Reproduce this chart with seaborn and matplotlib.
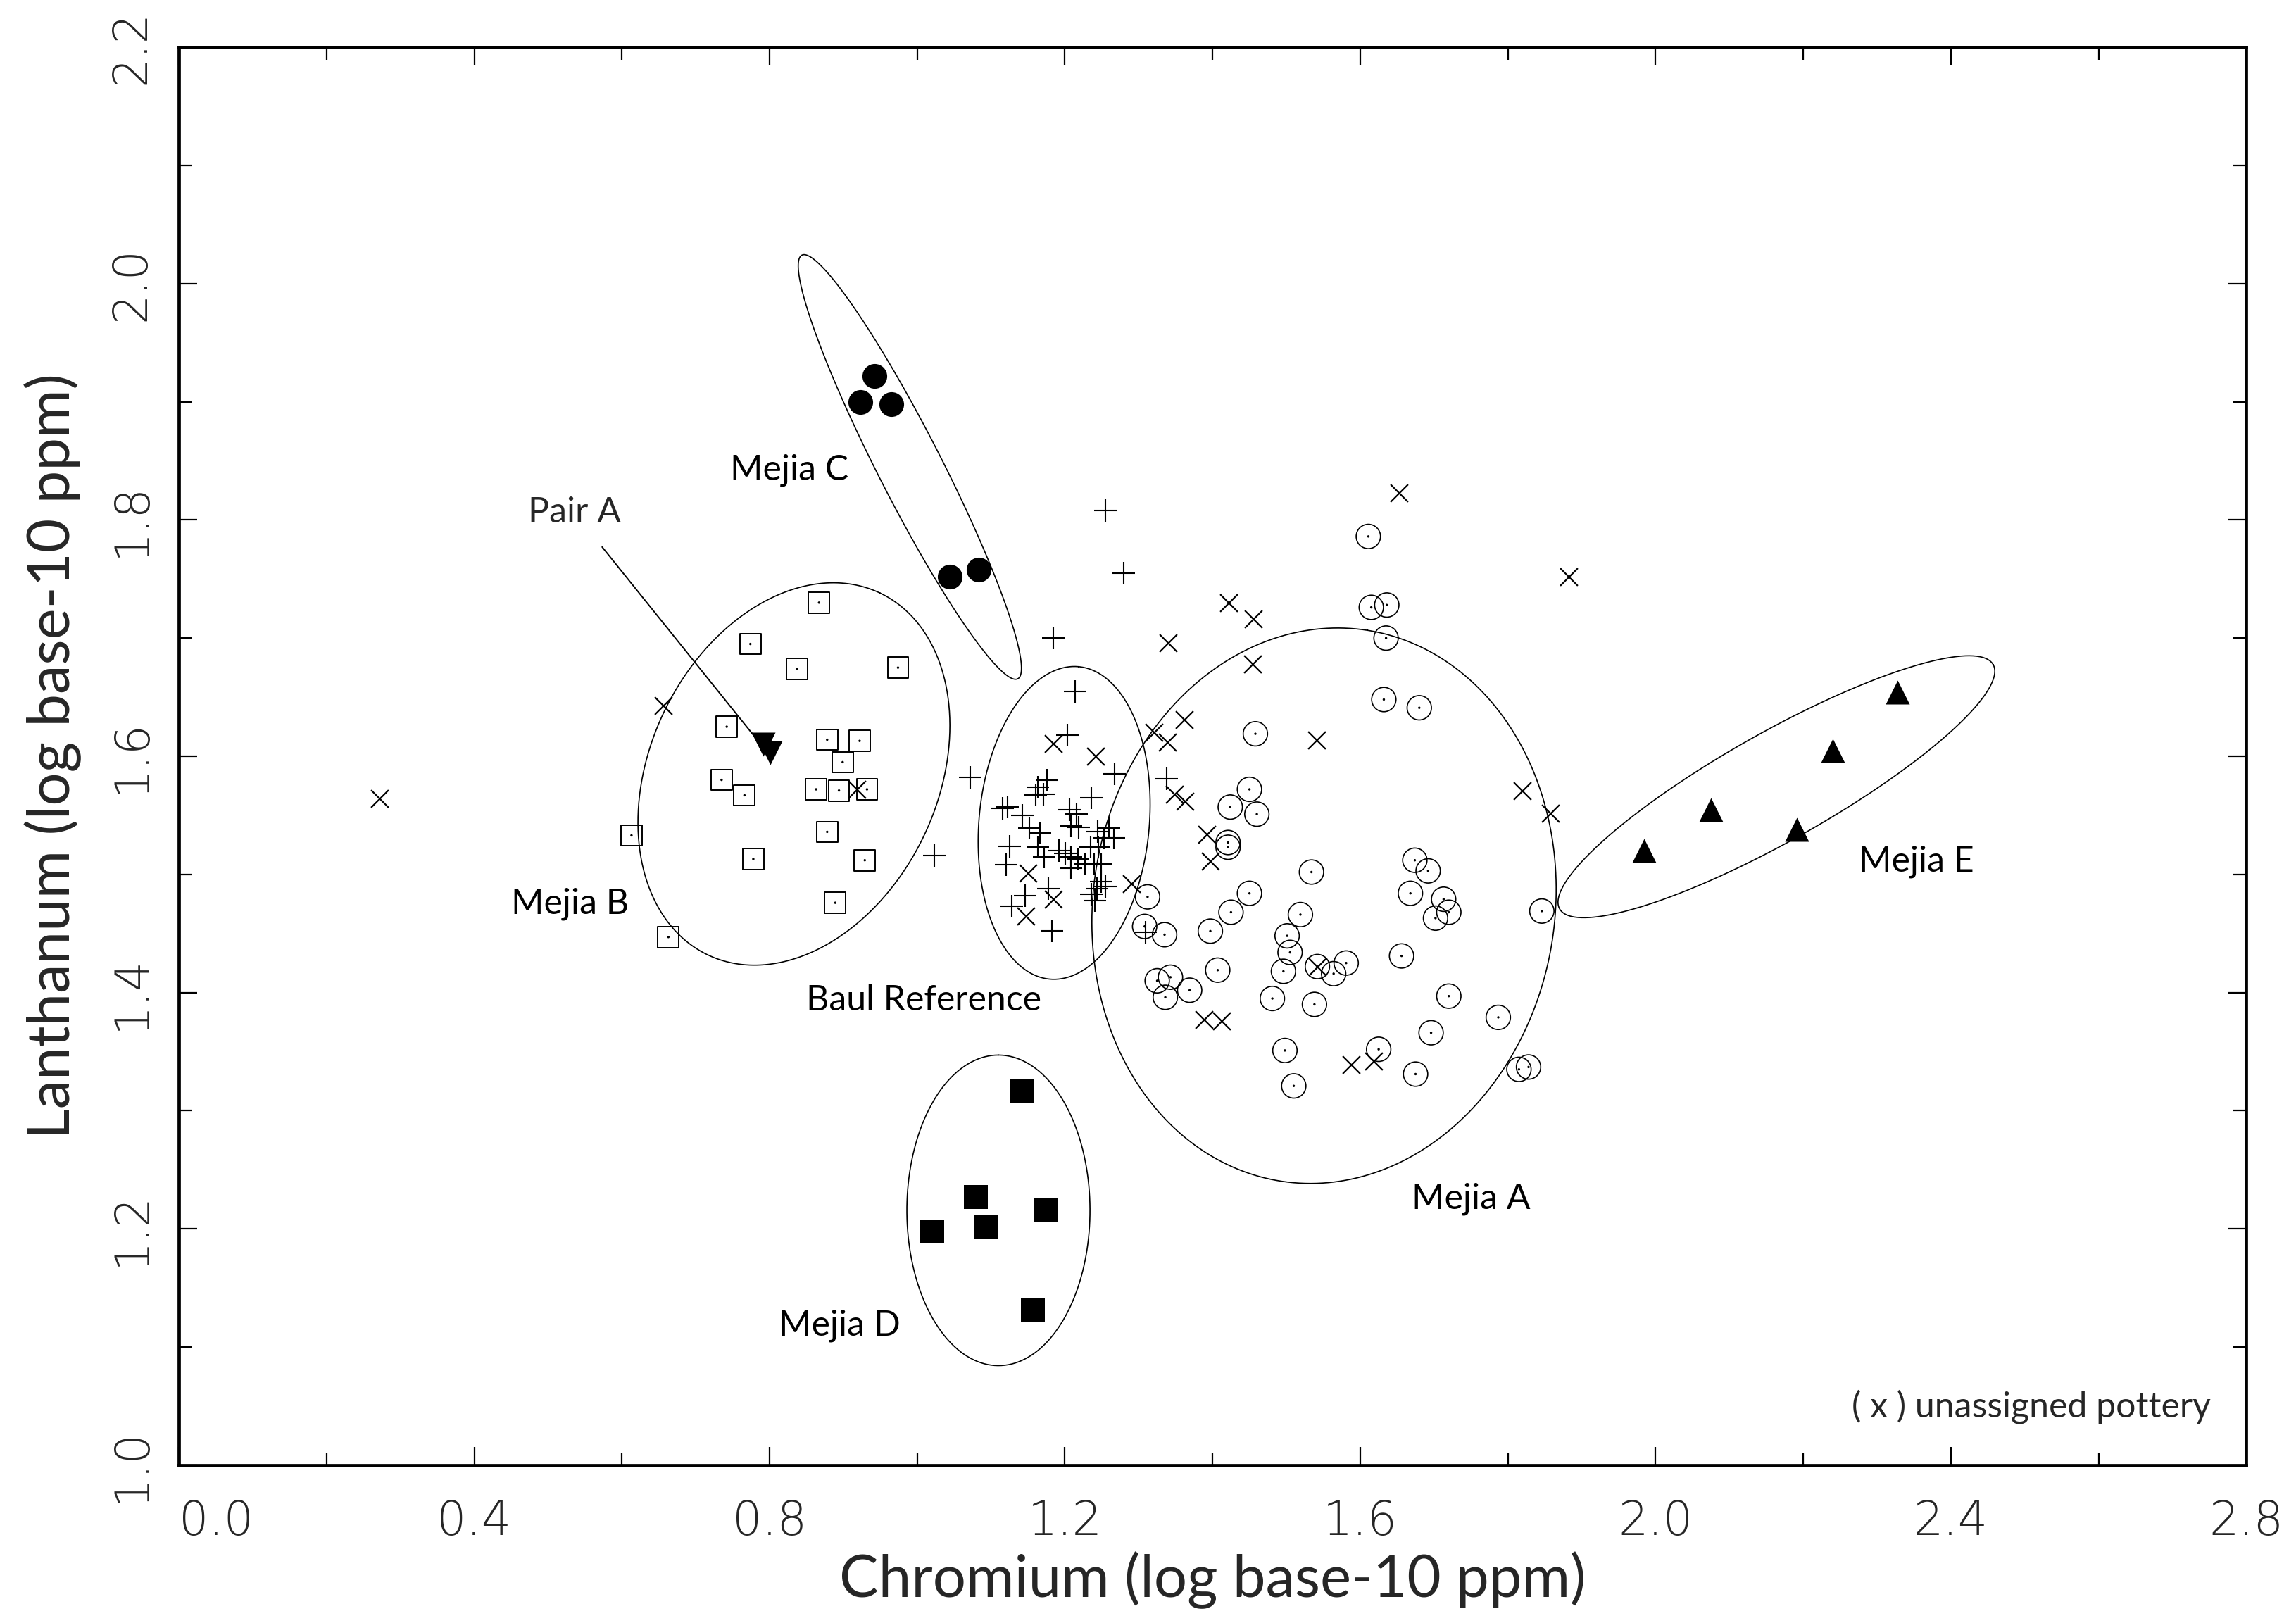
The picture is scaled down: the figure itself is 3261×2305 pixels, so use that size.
import numpy as np
import matplotlib
matplotlib.use("Agg")
import matplotlib.pyplot as plt
import seaborn as sns

# log10 chromium (x) and log10 lanthanum (y)

# Mejia A (open circles)
mejia_a_cr = [1.611, 1.615, 1.636, 1.635, 1.632, 1.680, 1.458, 1.450, 1.424, 1.460,
              1.421, 1.421, 1.534, 1.674, 1.692, 1.312, 1.308, 1.335, 1.397, 1.425,
              1.450, 1.668, 1.702, 1.519, 1.501, 1.505, 1.496, 1.407, 1.325, 1.343,
              1.336, 1.369, 1.481, 1.538, 1.542, 1.564, 1.581, 1.656, 1.696, 1.625,
              1.675, 1.498, 1.510, 1.713, 1.720, 1.846, 1.720, 1.787, 1.815, 1.828]
mejia_a_la = [1.786, 1.726, 1.728, 1.700, 1.648, 1.641, 1.619, 1.572, 1.557, 1.551,
              1.527, 1.523, 1.502, 1.512, 1.503, 1.481, 1.456, 1.449, 1.452, 1.468,
              1.484, 1.484, 1.463, 1.466, 1.448, 1.434, 1.418, 1.419, 1.410, 1.413,
              1.396, 1.402, 1.395, 1.390, 1.422, 1.416, 1.425, 1.431, 1.366, 1.352,
              1.331, 1.351, 1.321, 1.479, 1.468, 1.469, 1.397, 1.379, 1.335, 1.337]

# Mejia B (open squares)
mejia_b_cr = [0.867, 0.774, 0.837, 0.974, 0.742, 0.878, 0.922, 0.899, 0.735, 0.766,
              0.863, 0.894, 0.932, 0.878, 0.613, 0.778, 0.929, 0.889, 0.663]
mejia_b_la = [1.730, 1.695, 1.674, 1.675, 1.625, 1.614, 1.613, 1.595, 1.580, 1.567,
              1.572, 1.571, 1.572, 1.536, 1.533, 1.513, 1.512, 1.476, 1.447]

# Mejia C (filled circles)
mejia_c_cr = [0.942, 0.923, 0.965, 1.044, 1.083]
mejia_c_la = [1.922, 1.900, 1.898, 1.752, 1.758]

# Mejia D (filled squares)
mejia_d_cr = [1.141, 1.079, 1.020, 1.093, 1.175, 1.157]
mejia_d_la = [1.317, 1.227, 1.198, 1.202, 1.216, 1.131]

# Mejia E (filled triangles)
mejia_e_cr = [2.328, 2.240, 2.075, 2.191, 1.984]
mejia_e_la = [1.654, 1.605, 1.555, 1.538, 1.520]

# Pair A (filled down triangles)
pair_a_cr = [0.791, 0.801]
pair_a_la = [1.610, 1.603]

# Baul reference (plus)
baul_cr = [1.255, 1.280, 1.184, 1.214, 1.203, 1.267, 1.072, 1.023, 1.338, 1.309,
           1.182, 1.128, 1.146, 1.178, 1.120, 1.125, 1.116, 1.122, 1.142, 1.152,
           1.166, 1.163, 1.171, 1.176, 1.160, 1.236, 1.206, 1.216, 1.208, 1.219,
           1.244, 1.260, 1.266, 1.253, 1.163, 1.172, 1.192, 1.201, 1.208, 1.218,
           1.227, 1.240, 1.249, 1.235, 1.245, 1.208, 1.249, 1.243, 1.236, 1.241,
           1.255]
baul_la = [1.808, 1.755, 1.700, 1.655, 1.618, 1.585, 1.582, 1.516, 1.581, 1.451,
           1.452, 1.473, 1.482, 1.488, 1.508, 1.524, 1.556, 1.557, 1.550, 1.539,
           1.535, 1.574, 1.568, 1.580, 1.567, 1.565, 1.555, 1.551, 1.541, 1.540,
           1.536, 1.539, 1.531, 1.531, 1.523, 1.515, 1.520, 1.518, 1.515, 1.513,
           1.509, 1.509, 1.509, 1.523, 1.523, 1.505, 1.494, 1.488, 1.483, 1.478,
           1.490]

# unassigned pottery (x)
unassigned_cr = [0.272, 0.656, 0.918, 1.184, 1.242, 1.150, 1.184, 1.147, 1.290, 1.340,
                 1.321, 1.339, 1.362, 1.348, 1.363, 1.392, 1.397, 1.422, 1.455, 1.454,
                 1.541, 1.653, 1.542, 1.388, 1.412, 1.588, 1.618, 1.882, 1.819, 1.858]
unassigned_la = [1.564, 1.643, 1.572, 1.611, 1.600, 1.501, 1.479, 1.465, 1.492, 1.696,
                 1.620, 1.612, 1.631, 1.568, 1.562, 1.534, 1.511, 1.730, 1.716, 1.678,
                 1.614, 1.823, 1.422, 1.377, 1.376, 1.339, 1.342, 1.752, 1.571, 1.552]

# group ellipses: centre, semi-axes (in x units), tilt in degrees on screen
ellipses = {
    "Mejia A": (1.551, 1.4735, 0.3776, 0.3127, 81.0),
    "Mejia B": (0.833, 1.585, 0.2714, 0.1950, 64.5),
    "Baul": (1.199, 1.5436, 0.2125, 0.1153, 84.7),
    "Mejia C": (0.990, 1.8448, 0.322, 0.0432, -63.0),
    "Mejia D": (1.110, 1.2157, 0.2103, 0.124, 90.0),
    "Mejia E": (2.1637, 1.5742, 0.337, 0.0734, 29.4),
}

sns.set_style("ticks")
plt.rcParams["font.family"] = ["Lato", "DejaVu Sans"]

fig = plt.figure(figsize=(16.31, 11.525), dpi=200)
ax = fig.add_axes([0.0779, 0.0972, 0.9001, 0.8737])

# open markers with a centre dot
sns.scatterplot(x=mejia_a_cr, y=mejia_a_la, marker="o", s=155, color="black",
                facecolor="none", edgecolor="black", linewidth=0.6, ax=ax, zorder=3)
sns.scatterplot(x=mejia_a_cr, y=mejia_a_la, marker="o", s=1.5, color="black",
                edgecolor="none", linewidth=0, ax=ax, zorder=3)
sns.scatterplot(x=mejia_b_cr, y=mejia_b_la, marker="s", s=115, color="black",
                facecolor="none", edgecolor="black", linewidth=0.7, ax=ax, zorder=3)
sns.scatterplot(x=mejia_b_cr, y=mejia_b_la, marker="o", s=1.5, color="black",
                edgecolor="none", linewidth=0, ax=ax, zorder=3)

# filled markers
sns.scatterplot(x=mejia_c_cr, y=mejia_c_la, marker="o", s=160, color="black",
                edgecolor="black", linewidth=0, ax=ax, zorder=3)
sns.scatterplot(x=mejia_d_cr, y=mejia_d_la, marker="s", s=150, color="black",
                edgecolor="black", linewidth=0, ax=ax, zorder=3)
sns.scatterplot(x=mejia_e_cr, y=mejia_e_la, marker="^", s=150, color="black",
                edgecolor="black", linewidth=0, ax=ax, zorder=3)
sns.scatterplot(x=pair_a_cr, y=pair_a_la, marker="v", s=150, color="black",
                edgecolor="black", linewidth=0, ax=ax, zorder=3)

# line markers
sns.scatterplot(x=baul_cr, y=baul_la, marker="+", s=140, color="black",
                linewidth=0.75, ax=ax, zorder=3)
sns.scatterplot(x=unassigned_cr, y=unassigned_la, marker="x", s=80, color="black",
                linewidth=0.8, ax=ax, zorder=3)

ax.set_xlim(0.0, 2.8)
ax.set_ylim(1.0, 2.2)

# ellipses drawn in screen proportions
pos = ax.get_position()
w_px = pos.width * fig.get_figwidth()
h_px = pos.height * fig.get_figheight()
aspect = (h_px / 1.2) / (w_px / 2.8)
t = np.linspace(0, 2 * np.pi, 500)
for name, (cx, cy, a, b, ang) in ellipses.items():
    th = np.radians(ang)
    ex = a * np.cos(t) * np.cos(th) - b * np.sin(t) * np.sin(th)
    ey = a * np.cos(t) * np.sin(th) + b * np.sin(t) * np.cos(th)
    ax.plot(cx + ex, cy + ey / aspect, color="black", lw=0.6, zorder=2)

# Pair A pointer
ax.annotate("Pair A", xy=(0.778, 1.618), xytext=(0.536, 1.806),
            fontsize=18, ha="center", va="center",
            arrowprops=dict(arrowstyle="-", color="black", lw=0.7,
                            shrinkA=9, shrinkB=0))

label_kw = dict(fontsize=18, ha="center", va="center", color="black")
ax.text(0.827, 1.842, "Mejia C", **label_kw)
ax.text(0.530, 1.475, "Mejia B", **label_kw)
ax.text(1.009, 1.393, "Baul Reference", **label_kw)
ax.text(0.895, 1.118, "Mejia D", **label_kw)
ax.text(1.750, 1.2256, "Mejia A", **label_kw)
ax.text(2.353, 1.511, "Mejia E", **label_kw)
ax.text(2.752, 1.0496, "( x ) unassigned pottery", fontsize=18, ha="right",
        va="center")

# ticks
ax.set_xticks(np.arange(0, 2.81, 0.4))
ax.set_xticks(np.arange(0, 2.81, 0.2), minor=True)
ax.set_yticks(np.arange(1.0, 2.21, 0.2))
ax.set_yticks(np.arange(1.0, 2.21, 0.1), minor=True)
ax.set_xticklabels([f"{v:.1f}" for v in np.arange(0, 2.81, 0.4)],
                   family="DejaVu Sans", fontweight="light", fontsize=24)
ax.set_yticklabels([f"{v:.1f}" for v in np.arange(1.0, 2.21, 0.2)],
                   family="DejaVu Sans", fontweight="light", fontsize=24,
                   rotation=90, va="center")
# first x label sits just right of the corner
ax.get_xticklabels()[0].set_ha("left")

ax.tick_params(which="both", direction="in", top=True, right=True, width=0.8,
               color="black")
ax.tick_params(which="major", length=9.5)
ax.tick_params(which="minor", length=6.5)
ax.tick_params(axis="x", which="major", pad=17)
ax.tick_params(axis="y", which="major", pad=12.5)

for sp in ax.spines.values():
    sp.set_linewidth(1.7)
    sp.set_color("black")

ax.set_xlabel("Chromium (log base-10 ppm)", fontsize=30)
ax.set_ylabel("Lanthanum (log base-10 ppm)", fontsize=30)
ax.xaxis.set_label_coords(0.5, -0.061)
ax.yaxis.set_label_coords(-0.047, 0.5)

fig.savefig("out.png", dpi=200)
